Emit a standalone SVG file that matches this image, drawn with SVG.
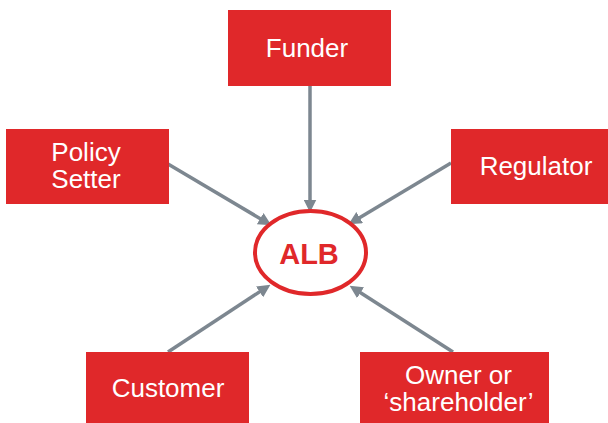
<svg xmlns="http://www.w3.org/2000/svg" width="608" height="423" viewBox="0 0 608 423">
<style>
.box{fill:#e0282a;}
.lbl{font-family:"Liberation Sans",Arial,sans-serif;font-size:26px;fill:#ffffff;text-anchor:middle;}
.conn{stroke:#7d8790;stroke-width:3.5;fill:none;marker-end:url(#ah);}
</style>
<defs>
<marker id="ah" viewBox="0 0 12 12" refX="6" refY="6" markerWidth="13" markerHeight="13" markerUnits="userSpaceOnUse" orient="auto">
<path d="M0,0 L12,6 L0,12 z" fill="#7d8790"/>
</marker>
</defs>
<rect width="608" height="423" fill="#ffffff"/>
<g id="connectors">
<line class="conn" x1="310" y1="86" x2="310" y2="206"/>
<line class="conn" x1="168" y1="164" x2="265.8" y2="221.9"/>
<line class="conn" x1="451" y1="163" x2="354.1" y2="220.9"/>
<line class="conn" x1="168" y1="352" x2="265" y2="288.3"/>
<line class="conn" x1="453" y1="352" x2="355.1" y2="289.2"/>
</g>
<g id="funder">
<rect class="box" x="228" y="10" width="163" height="76"/>
<text class="lbl" x="307" y="57">Funder</text>
</g>
<g id="policy-setter">
<rect class="box" x="6" y="129" width="163" height="75"/>
<text class="lbl" x="86" y="161">Policy</text>
<text class="lbl" x="86" y="188">Setter</text>
</g>
<g id="regulator">
<rect class="box" x="451" y="129" width="157" height="75"/>
<text class="lbl" x="536" y="175">Regulator</text>
</g>
<g id="customer">
<rect class="box" x="86" y="352" width="163" height="71"/>
<text class="lbl" x="168" y="397">Customer</text>
</g>
<g id="owner">
<rect class="box" x="360" y="352" width="189" height="71"/>
<text class="lbl" x="458.5" y="384">Owner or</text>
<text class="lbl" x="458.5" y="411">‘shareholder’</text>
</g>
<g id="alb">
<ellipse cx="310.5" cy="252.5" rx="55.5" ry="41.5" fill="#ffffff" stroke="#e0282a" stroke-width="4"/>
<text x="309" y="264" font-family="'Liberation Sans',Arial,sans-serif" font-size="29" font-weight="bold" fill="#e0282a" text-anchor="middle">ALB</text>
</g>
</svg>
